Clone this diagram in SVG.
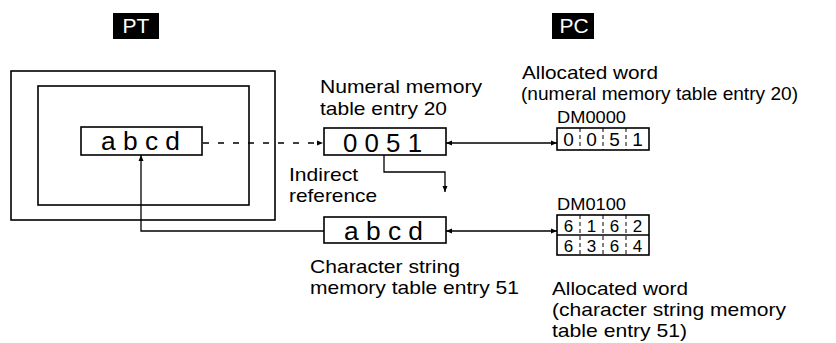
<svg xmlns="http://www.w3.org/2000/svg" width="836" height="343" viewBox="0 0 836 343">
<style>
  .lbl { font-family: "Liberation Sans", Arial, sans-serif; font-size: 18.5px; fill: #000; }
  .dm { font-family: "Liberation Sans", Arial, sans-serif; font-size: 16px; fill: #000; }
  .big { font-family: "Liberation Sans", Arial, sans-serif; font-size: 25px; fill: #000; }
  .dig { font-family: "Liberation Sans", Arial, sans-serif; font-size: 19px; fill: #000; text-anchor: middle; }
  .dig2 { font-family: "Liberation Sans", Arial, sans-serif; font-size: 17px; fill: #000; text-anchor: middle; }
  .tag { font-family: "Liberation Sans", Arial, sans-serif; font-size: 21px; fill: #fff; text-anchor: middle; }
  .box { fill: #fff; stroke: #000; stroke-width: 1.6; }
  .frame { fill: none; stroke: #000; stroke-width: 1.6; }
  .div { stroke: #000; stroke-width: 1; stroke-dasharray: 4 3; }
  .con { fill: none; stroke: #000; stroke-width: 1.3; }
  .dash { stroke-dasharray: 6 9; }
</style>
<defs>
  <marker id="arr" markerUnits="userSpaceOnUse" markerWidth="7" markerHeight="6" refX="6" refY="3" orient="auto-start-reverse">
    <path d="M0,0.5 L6,3 L0,5.5 z" fill="#000"/>
  </marker>
</defs>

<g id="pt-label">
  <rect x="113" y="13" width="46" height="26" fill="#000"/>
  <text class="tag" x="136" y="33">PT</text>
</g>
<g id="pc-label">
  <rect x="552" y="13" width="42" height="26" fill="#000"/>
  <text class="tag" x="574" y="33">PC</text>
</g>

<g id="pt-screen">
  <rect class="frame" x="11" y="71" width="264" height="149"/>
  <rect class="frame" x="38" y="86" width="211" height="119"/>
</g>

<g id="connectors">
  <line class="con dash" x1="203" y1="143" x2="323" y2="143" marker-end="url(#arr)"/>
  <polyline class="con" points="384,155 384,172 445,172 445,192" marker-end="url(#arr)"/>
  <polyline class="con" points="324,231 141,231 141,155" marker-end="url(#arr)"/>
  <line class="con" x1="446" y1="143" x2="557" y2="143" marker-start="url(#arr)" marker-end="url(#arr)"/>
  <line class="con" x1="446" y1="231" x2="557" y2="231" marker-start="url(#arr)" marker-end="url(#arr)"/>
</g>

<g id="pt-display">
  <rect class="box" x="81" y="127" width="121" height="28"/>
  <text class="big" x="101" y="150" textLength="79" lengthAdjust="spacingAndGlyphs">a b c d</text>
</g>

<g id="numeral-entry">
  <rect class="box" x="324" y="128" width="122" height="27"/>
  <text class="big" x="343" y="152" textLength="79" lengthAdjust="spacingAndGlyphs">0 0 5 1</text>
  <text class="lbl" x="320" y="93" textLength="162" lengthAdjust="spacingAndGlyphs">Numeral memory</text>
  <text class="lbl" x="320" y="115" textLength="127" lengthAdjust="spacingAndGlyphs">table entry 20</text>
</g>

<g id="indirect-label">
  <text class="lbl" x="289" y="181" textLength="69" lengthAdjust="spacingAndGlyphs">Indirect</text>
  <text class="lbl" x="289" y="202" textLength="88" lengthAdjust="spacingAndGlyphs">reference</text>
</g>

<g id="string-entry">
  <rect class="box" x="324" y="217" width="122" height="26"/>
  <text class="big" x="344" y="240" textLength="79" lengthAdjust="spacingAndGlyphs">a b c d</text>
  <text class="lbl" x="310" y="273" textLength="150" lengthAdjust="spacingAndGlyphs">Character string</text>
  <text class="lbl" x="310" y="294" textLength="209" lengthAdjust="spacingAndGlyphs">memory table entry 51</text>
</g>

<g id="dm0000">
  <text class="lbl" x="522" y="79" textLength="136" lengthAdjust="spacingAndGlyphs">Allocated word</text>
  <text class="lbl" x="521" y="100" textLength="277" lengthAdjust="spacingAndGlyphs">(numeral memory table entry 20)</text>
  <text class="dm" x="557" y="123" textLength="69" lengthAdjust="spacingAndGlyphs">DM0000</text>
  <rect class="box" x="557" y="128" width="92" height="22"/>
  <line class="div" x1="580" y1="128" x2="580" y2="150"/>
  <line class="div" x1="603" y1="128" x2="603" y2="150"/>
  <line class="div" x1="626" y1="128" x2="626" y2="150"/>
  <text class="dig" x="568.5" y="146">0</text>
  <text class="dig" x="591.5" y="146">0</text>
  <text class="dig" x="614.5" y="146">5</text>
  <text class="dig" x="637.5" y="146">1</text>
</g>

<g id="dm0100">
  <text class="dm" x="557" y="210" textLength="69" lengthAdjust="spacingAndGlyphs">DM0100</text>
  <rect class="box" x="557" y="215" width="92" height="40"/>
  <line class="frame" x1="557" y1="235" x2="649" y2="235"/>
  <line class="div" x1="580" y1="215" x2="580" y2="255"/>
  <line class="div" x1="603" y1="215" x2="603" y2="255"/>
  <line class="div" x1="626" y1="215" x2="626" y2="255"/>
  <text class="dig2" x="568.5" y="232">6</text>
  <text class="dig2" x="591.5" y="232">1</text>
  <text class="dig2" x="614.5" y="232">6</text>
  <text class="dig2" x="637.5" y="232">2</text>
  <text class="dig2" x="568.5" y="252">6</text>
  <text class="dig2" x="591.5" y="252">3</text>
  <text class="dig2" x="614.5" y="252">6</text>
  <text class="dig2" x="637.5" y="252">4</text>
  <text class="lbl" x="552" y="295" textLength="136" lengthAdjust="spacingAndGlyphs">Allocated word</text>
  <text class="lbl" x="552" y="316" textLength="234" lengthAdjust="spacingAndGlyphs">(character string memory</text>
  <text class="lbl" x="552" y="337" textLength="135" lengthAdjust="spacingAndGlyphs">table entry 51)</text>
</g>
</svg>
